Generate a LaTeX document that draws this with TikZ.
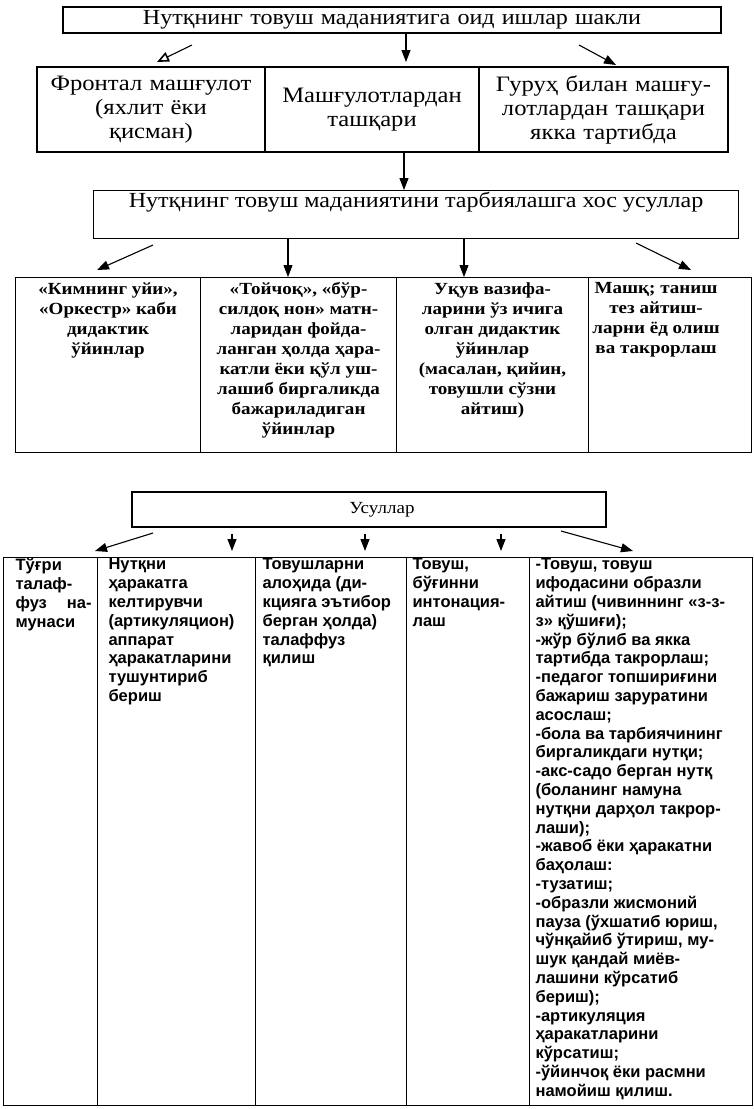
\documentclass[tikz,border=0pt]{standalone}
\usepackage{fontspec}
\setmainfont{Liberation Serif}[FakeStretch=1.12]
\newfontfamily\tablefont{Liberation Sans}
\usetikzlibrary{arrows.meta}

\newcommand{\cellbox}[4]{\parbox[b][#2][t]{#1}{\vspace*{#3}#4}}

\begin{document}
\begin{tikzpicture}[x=1pt, y=-1pt,
	arr/.style={line width=1.1pt, -{Triangle[length=12pt,width=9pt]}},
	openarr/.style={line width=1.1pt, -{Triangle[open,length=12pt,width=10pt,line width=1.6pt]}},
	frame/.style={draw, line width=1.1pt, inner sep=0pt, align=center},
	cell/.style={frame, anchor=north west},
	title/.style={font=\fontsize{21.5}{24}\selectfont},
	form/.style={font=\fontsize{22}{24}\selectfont},
	game/.style={font=\fontsize{17}{20}\selectfont\bfseries},
	way/.style={font=\fontsize{16.5}{18.8}\tablefont\bfseries}
]
	\useasboundingbox (0,0) rectangle (753,1109);
	\hbadness=10000 \hfuzz=50pt

	% forms of work
	\node (forms) [frame, title, text width=658pt, minimum height=26pt] at (392,20) {Нутқнинг товуш маданиятига оид ишлар шакли};
	\node (frontal) [frame, form, text width=228pt, minimum height=85pt] at (151,109.5) {Фронтал машғулот\\(яхлит ёки\\қисман)};
	\node (outside) [frame, form, text width=214pt, minimum height=85pt] at (372,109.5) {Машғулотлардан\\ташқари};
	\node (group) [frame, form, text width=249pt, minimum height=85pt] at (603.5,109.5) {Гуруҳ билан машғу-\\лотлардан ташқари\\якка тартибда};

	\coordinate (f1a) at (192,45);  \coordinate (f1b) at (157,62);
	\coordinate (f2b) at (406,62);
	\coordinate (f3a) at (579,45);  \coordinate (f3b) at (616,65);
	\draw[openarr] (f1a) -- (f1b);
	\draw[arr] (forms.south -| f2b) -- (f2b);
	\draw[arr] (f3a) -- (f3b);

	% methods
	\node (methods) [cell, title] at (93,190) {\cellbox{645pt}{48pt}{2pt}{\centering Нутқнинг товуш маданиятини тарбиялашга хос усуллар}};
	\coordinate (m0) at (404,190);
	\draw[arr] (outside.south -| m0) -- (m0);

	\node (game1) [cell, game] at (15,277) {\cellbox{185pt}{175pt}{5pt}{\centering «Кимнинг уйи»,\\«Оркестр» каби\\дидактик\\ўйинлар}};
	\node (game2) [cell, game] at (200,277) {\cellbox{196pt}{175pt}{5pt}{\centering «Тойчоқ», «бўр-\\силдоқ нон» матн-\\ларидан фойда-\\ланган ҳолда ҳара-\\катли ёки қўл уш-\\лашиб биргаликда\\бажариладиган\\ўйинлар}};
	\node (game3) [cell, game] at (396,277) {\cellbox{192pt}{175pt}{5pt}{\centering Уқув вазифа-\\ларини ўз ичига\\олган дидактик\\ўйинлар\\(масалан, қийин,\\товушли сўзни\\айтиш)}};
	\node (drill) [cell, game] at (588,277) {\cellbox{163pt}{175pt}{5pt}{\centering\rightskip=0pt plus 1fil\leftskip=0pt plus 1fil\advance\rightskip by 28pt Машқ; таниш\\тез айтиш-\\ларни ёд олиш\\ва такрорлаш}};

	\coordinate (m1a) at (153,245); \coordinate (m1b) at (97,270);
	\coordinate (m2) at (288,277);
	\coordinate (m3) at (464,277);
	\coordinate (m4a) at (636,243); \coordinate (m4b) at (691,270);
	\draw[arr] (m1a) -- (m1b);
	\draw[arr] (methods.south -| m2) -- (m2);
	\draw[arr] (methods.south -| m3) -- (m3);
	\draw[arr] (m4a) -- (m4b);

	% ways
	\node (ways) [frame, font=\fontsize{17}{20}\selectfont, text width=474pt, minimum height=35pt] at (369,509.5) {\hspace*{26pt}Усуллар};

	\node (sample) [cell, way] at (3,557) {\cellbox{94pt}{548pt}{1pt}{\raggedright\leftskip=12pt\rightskip=6pt Тўғри\\талаф-\\фуз\hfill на-\\мунаси}};
	\node (explain) [cell, way] at (97,557) {\cellbox{158pt}{548pt}{1pt}{\raggedright\leftskip=11pt Нутқни\\ҳаракатга\\келтирувчи\\(артикуляцион)\\аппарат\\ҳаракатларини\\тушунтириб\\бериш}};
	\node (diction) [cell, way] at (255,557) {\cellbox{151pt}{548pt}{1pt}{\raggedright\leftskip=7pt Товушларни\\алоҳида (ди-\\кцияга эътибор\\берган ҳолда)\\талаффуз\\қилиш}};
	\node (intone) [cell, way] at (406,557) {\cellbox{123pt}{548pt}{1pt}{\raggedright\leftskip=6pt Товуш,\\бўғинни\\интонация-\\лаш}};
	\node (other) [cell, way] at (529,557) {\cellbox{223pt}{548pt}{1pt}{\raggedright\leftskip=6pt -Товуш, товуш\\ифодасини образли\\айтиш (чивиннинг «з-з-\\з» қўшиғи);\\-жўр бўлиб ва якка\\тартибда такрорлаш;\\-педагог топшириғини\\бажариш заруратини\\асослаш;\\-бола ва тарбиячининг\\биргаликдаги нутқи;\\-акс-садо берган нутқ\\(боланинг намуна\\нутқни дарҳол такрор-\\лаши);\\-жавоб ёки ҳаракатни\\баҳолаш:\\-тузатиш;\\-образли жисмоний\\пауза (ўхшатиб юриш,\\чўнқайиб ўтириш, му-\\шук қандай миёв-\\лашини кўрсатиб\\бериш);\\-артикуляция\\ҳаракатларини\\кўрсатиш;\\-ўйинчоқ ёки расмни\\намойиш қилиш.}};

	\coordinate (w1a) at (153,533); \coordinate (w1b) at (95,551);
	\coordinate (w2) at (232,551);
	\coordinate (w3) at (365,551);
	\coordinate (w4) at (501,551);
	\coordinate (w5a) at (561,531); \coordinate (w5b) at (633,551);
	\draw[arr] (w1a) -- (w1b);
	\draw[arr] (ways.south -| w2) ++(0,6) -- (w2);
	\draw[arr] (ways.south -| w3) ++(0,6) -- (w3);
	\draw[arr] (ways.south -| w4) ++(0,6) -- (w4);
	\draw[arr] (w5a) -- (w5b);
\end{tikzpicture}
\end{document}
